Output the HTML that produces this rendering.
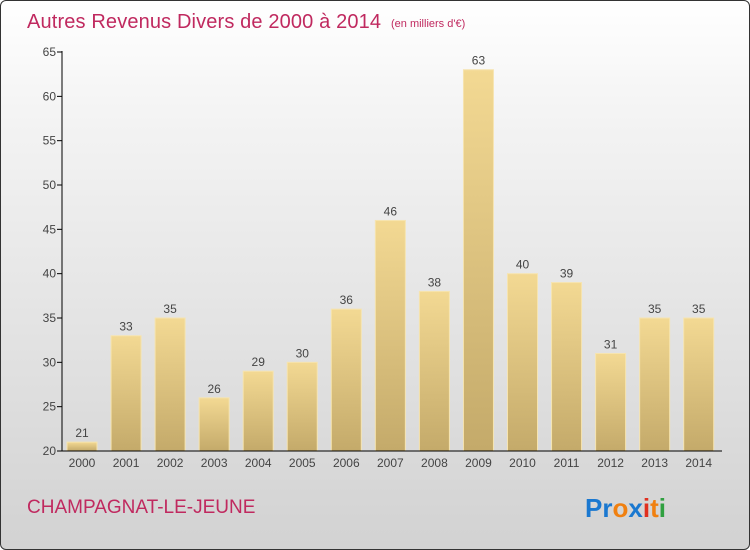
<!DOCTYPE html>
<html><head><meta charset="utf-8"><style>
body{margin:0;}
#c{position:relative;width:748px;height:548px;border:1px solid #333;border-radius:6px;overflow:hidden;background:linear-gradient(#ffffff,#f4f4f4 20%,#d2d2d2);font-family:"Liberation Sans",sans-serif;}
</style></head><body>
<div id="c">
<svg width="748" height="548" viewBox="0 0 748 548" xmlns="http://www.w3.org/2000/svg">
<defs><linearGradient id="bg" x1="0" y1="0" x2="0" y2="1"><stop offset="0" stop-color="#f3d993"/><stop offset="1" stop-color="#c4aa6a"/></linearGradient></defs>
<text x="26" y="27" font-size="20" fill="#c0295f" textLength="354">Autres Revenus Divers de 2000 à 2014</text>
<text x="390" y="26" font-size="11" fill="#c0295f">(en milliers d'€)</text>
<g id="plot"></g>
<text x="26" y="512" font-size="19" fill="#c0295f">CHAMPAGNAT-LE-JEUNE</text>
<text x="584" y="516" font-size="26" font-weight="bold"><tspan fill="#1a78d0">Pr</tspan><tspan fill="#f08010">o</tspan><tspan fill="#1a78d0">x</tspan><tspan fill="#e03020">i</tspan><tspan fill="#f08010">t</tspan><tspan fill="#30a040">i</tspan></text>
</svg>
</div>
<script>
const years=["2000","2001","2002","2003","2004","2005","2006","2007","2008","2009","2010","2011","2012","2013","2014"];
const values=[21,33,35,26,29,30,36,46,38,63,40,39,31,35,35];
const yTicks=[20,25,30,35,40,45,50,55,60,65];
const NS="http://www.w3.org/2000/svg";
const g=document.getElementById('plot');
const y=v=>450-(v-20)*(399/45);
const x=i=>81+i*44.05;
function mk(t,a){const e=document.createElementNS(NS,t);for(const k in a)e.setAttribute(k,a[k]);g.appendChild(e);return e;}
yTicks.forEach(t=>{
 const l=mk('line',{x1:56,x2:61,y1:y(t),y2:y(t),stroke:'#000'});
 
 
 const tx=mk('text',{x:55,y:y(t)+4,'font-size':12,fill:'#444','text-anchor':'end'});tx.textContent=t;
 
 
});
values.forEach((v,i)=>{
 const r=mk('rect',{x:x(i)-15,y:y(v),width:30,height:450-y(v),fill:'url(#bg)',stroke:'#f6e4b0','stroke-width':1});
 
 
 const lb=mk('text',{x:x(i),y:y(v)-5,'font-size':12,fill:'#444','text-anchor':'middle'});lb.textContent=v;
 
 
 const xl=mk('text',{x:x(i),y:466,'font-size':12,fill:'#444','text-anchor':'middle'});xl.textContent=years[i];
 
 
});
const ya=mk('line',{x1:61,x2:61,y1:50,y2:450,stroke:'#000'});


const xa=mk('line',{x1:61,x2:721,y1:450,y2:450,stroke:'#000'});


</script>
</body></html>
